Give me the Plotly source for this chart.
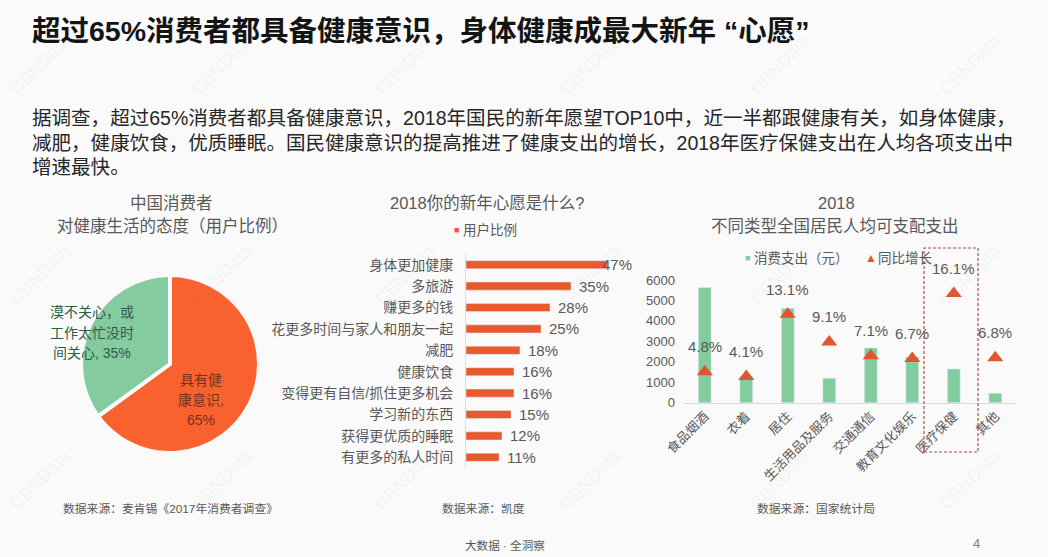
import plotly.graph_objects as go

W, H = 1052, 557
FONT = "Liberation Sans, Noto Sans CJK SC"
BG = "#fafafa"
ORANGE = "#e85a2e"
GREEN = "#82cc9e"
TRI = "#e0562e"
GREY = "#595959"

# pie
pie_labels = ["具有健康意识", "漠不关心，或工作太忙没时间关心"]
pie_values = [65, 35]
pie_lines_orange = ["具有健", "康意识,", "65%"]
pie_lines_green = ["漠不关心，或", "工作太忙没时", "间关心, 35%"]

# wishes
wish_names = ["身体更加健康", "多旅游", "赚更多的钱", "花更多时间与家人和朋友一起", "减肥",
              "健康饮食", "变得更有自信/抓住更多机会", "学习新的东西", "获得更优质的睡眠", "有更多的私人时间"]
wish_values = [47, 35, 28, 25, 18, 16, 16, 15, 12, 11]

# spending
spend_names = ["食品烟酒", "衣着", "居住", "生活用品及服务", "交通通信", "教育文化娱乐", "医疗保健", "其他"]
spend_values = [5630, 1290, 4620, 1200, 2680, 2230, 1650, 460]
growth_values = [4.8, 4.1, 13.1, 9.1, 7.1, 6.7, 16.1, 6.8]

body_lines = [
    "据调查，超过65%消费者都具备健康意识，2018年国民的新年愿望TOP10中，近一半都跟健康有关，如身体健康，",
    "减肥，健康饮食，优质睡眠。国民健康意识的提高推进了健康支出的增长，2018年医疗保健支出在人均各项支出中",
    "增速最快。",
]


def px_x(x):
    return x / W


def px_y(y):
    return 1 - y / H


def text_at(fig, x, y, text, size, color=GREY, anchor="center", bold=False, **kwargs):
    if bold:
        text = "<b>" + text + "</b>"
    fig.add_annotation(
        xref="paper", yref="paper", x=px_x(x), y=px_y(y), text=text, showarrow=False,
        xanchor=anchor, yanchor="middle", align="center",
        font=dict(family=FONT, size=size, color=color), **kwargs
    )


fig = go.Figure()

fig.add_trace(go.Pie(
    labels=pie_labels, values=pie_values, sort=False, direction="clockwise", rotation=0,
    domain=dict(x=[px_x(81), px_x(259)], y=[px_y(453), px_y(275)]),
    marker=dict(colors=["#f9612f", "#85cba0"], line=dict(color=BG, width=4)),
    textinfo="none", hoverinfo="label+percent", showlegend=False,
))

fig.add_trace(go.Bar(
    x=wish_values, y=wish_names, orientation="h", name="用户比例",
    marker_color=ORANGE, xaxis="x", yaxis="y", showlegend=False,
))

fig.add_trace(go.Bar(
    x=spend_names, y=spend_values, name="消费支出（元）", width=0.31,
    marker_color=GREEN, xaxis="x2", yaxis="y2", showlegend=False,
))
fig.add_trace(go.Scatter(
    x=spend_names, y=growth_values, name="同比增长", mode="markers",
    marker=dict(symbol="triangle-up", size=14, color=TRI),
    xaxis="x2", yaxis="y3", showlegend=False, cliponaxis=False,
))

fig.update_layout(
    width=W, height=H, margin=dict(l=0, r=0, t=0, b=0), autosize=False,
    paper_bgcolor=BG, plot_bgcolor="rgba(0,0,0,0)", bargap=0.62,
    font=dict(family=FONT, color=GREY),
    xaxis=dict(domain=[px_x(466), px_x(640)], range=[0, 58], visible=False, automargin=False),
    yaxis=dict(domain=[px_y(468), px_y(254)], type="category", autorange="reversed", automargin=False,
               showgrid=False, zeroline=False, showline=True, linecolor="#dcdcdc", linewidth=1,
               ticks="", ticklabelstandoff=9, tickfont=dict(size=14, color=GREY)),
    xaxis2=dict(domain=[px_x(684), px_x(1016)], anchor="y2", type="category", range=[-0.5, 7.5],
                tickangle=-45, automargin=False,
                showgrid=False, showline=True, linecolor="#d9d9d9", linewidth=1, ticks="",
                tickfont=dict(size=13, color=GREY)),
    yaxis2=dict(domain=[px_y(402.7), px_y(280)], anchor="x2", range=[0, 6000], dtick=1000, automargin=False,
                showgrid=False, zeroline=False, showline=False, ticks="", ticklabelstandoff=8,
                tickfont=dict(size=13, color=GREY)),
    yaxis3=dict(overlaying="y2", side="right", anchor="x2", range=[0.33, 18.03], visible=False, automargin=False),
)

# value labels on the wish bars, the first one runs back over its bar
for i, (name, val) in enumerate(zip(wish_names, wish_values)):
    fig.add_annotation(
        xref="x", yref="y", x=val, y=name, text=f"{val}%", showarrow=False, xanchor="left",
        xshift=-7 if i == 0 else 6, font=dict(family=FONT, size=15, color=GREY),
    )

for name, val in zip(spend_names, growth_values):
    fig.add_annotation(
        xref="x2", yref="y3", x=name, y=val, text=f"{val}%", showarrow=False, yshift=25,
        font=dict(family=FONT, size=15, color=GREY),
    )

# highlight around 医疗保健
fig.add_shape(type="rect", xref="paper", yref="paper", x0=px_x(924), x1=px_x(978), y0=px_y(452), y1=px_y(248),
              line=dict(color="#a5523f", width=1.2, dash="3px,2px"))
fig.add_shape(type="rect", xref="paper", yref="paper", x0=px_x(1049), x1=1, y0=0, y1=1,
              fillcolor="#ffffff", line_width=0, layer="below")

text_at(fig, 30, 31, "超过65%消费者都具备健康意识，身体健康成最大新年 “心愿”", 28.5, "#141414", "left", True)
for y, line in zip([117.5, 142.5, 167.5], body_lines):
    text_at(fig, 30, y, line, 19.55, "#262626", "left")

text_at(fig, 171, 203, "中国消费者", 16.5)
text_at(fig, 172, 226, "对健康生活的态度（用户比例）", 16.5)
text_at(fig, 487, 203, "2018你的新年心愿是什么?", 16.5)
text_at(fig, 836, 203, "2018", 16.5)
text_at(fig, 835, 226, "不同类型全国居民人均可支配支出", 16.5)

# legends
text_at(fig, 456, 230, "■", 9, ORANGE)
text_at(fig, 461, 230, "用户比例", 13.5, GREY, "left")
text_at(fig, 747, 258, "■", 9, GREEN)
text_at(fig, 752, 258, "消费支出（元）", 13.5, GREY, "left")
text_at(fig, 871, 258, "▲", 12, TRI)
text_at(fig, 876, 258, "同比增长", 13.5, GREY, "left")

for y, line in zip([312, 333, 353], pie_lines_green):
    text_at(fig, 92, y, line, 14, "#2f5a46")
for y, line in zip([380, 400, 420], pie_lines_orange):
    text_at(fig, 201, y, line, 14, "#7a2f1a")

text_at(fig, 170, 509, "数据来源：麦肯锡《2017年消费者调查》", 11.8)
text_at(fig, 483, 509, "数据来源：凯度", 11.8)
text_at(fig, 816, 509, "数据来源：国家统计局", 11.8)
text_at(fig, 505, 545, "大数据 · 全洞察", 11.6)
text_at(fig, 976, 543, "4", 13, "#808080")

# faint CBNData watermark
for wy in [65, 275, 480]:
    for wx in [40, 222, 405, 590, 780, 970]:
        text_at(fig, wx, wy, "CBNData", 18, "rgba(120,120,120,0.06)", textangle=-45)

fig.write_html("out.html", post_script="document.body.style.margin='0';", config=dict(displayModeBar=False))
